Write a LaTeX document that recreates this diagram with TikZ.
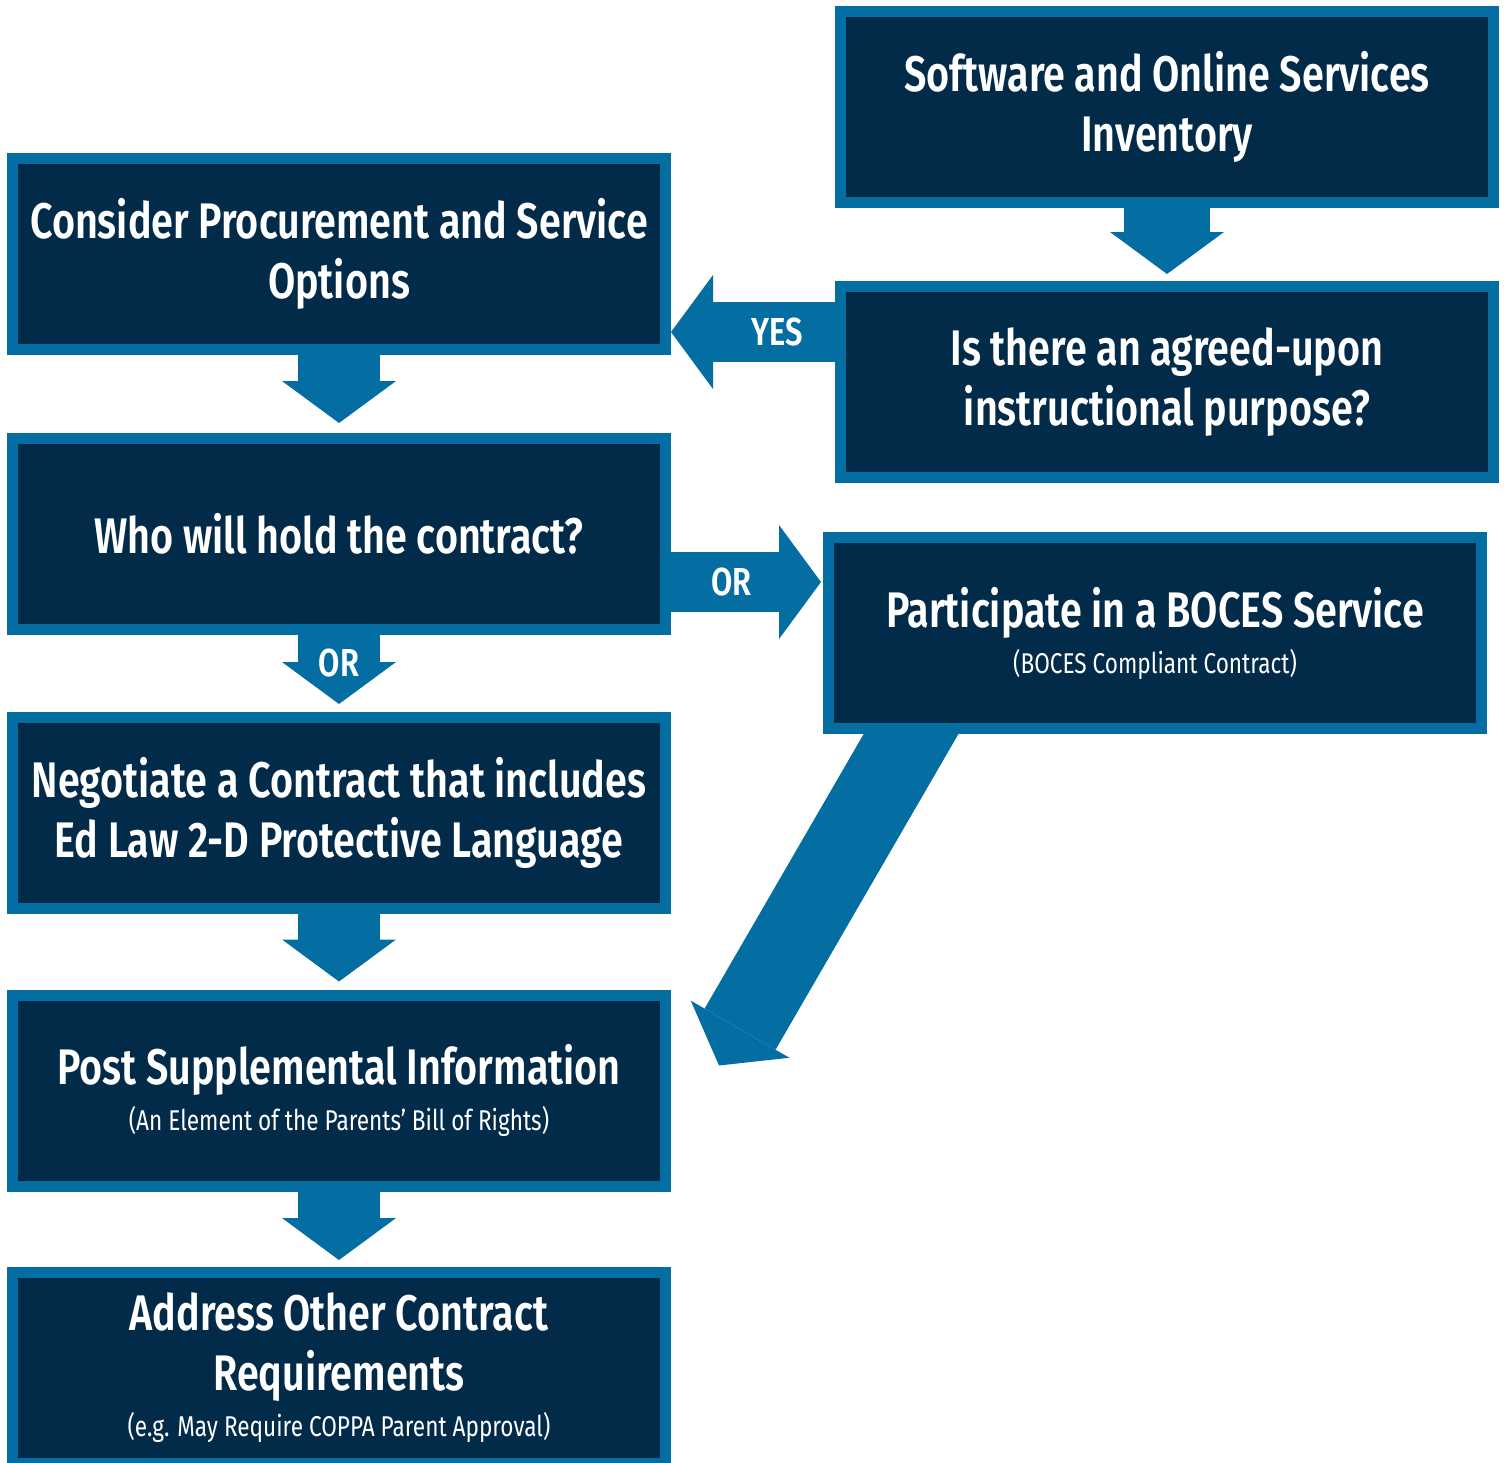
\documentclass[tikz,border=0pt]{standalone}
\usepackage{fontspec}
\setmainfont{Fira Sans}[FakeStretch=0.79, BoldFont={Fira Sans SemiBold}]
\usetikzlibrary{arrows.meta,calc,backgrounds}
\definecolor{navy}{HTML}{022B4A}
\definecolor{stepblue}{HTML}{046EA3}
\tikzset{
  flowbox/.style={fill=navy, draw=stepblue, line width=5.5pt, minimum width=326.5pt,
    minimum height=95.5pt, inner sep=0pt, text=white, align=center,
    font=\bfseries\fontsize{25}{30}\selectfont},
  bigarrow/.style={draw=stepblue, line width=#1, -{Triangle[width=57pt,length=21pt,line width=0pt]}},
  bigarrow/.default=41pt,
  arrlabel/.style={text=white, inner sep=0pt, font=\bfseries\fontsize{19.5}{22}\selectfont}
}
\newcommand{\subline}[1]{\\[-7pt]{\mdseries\fontsize{14.3}{16}\selectfont #1}}

\begin{document}
\begin{tikzpicture}[x=0.5pt, y=-0.5pt]
\path[use as bounding box, clip] (0,0) rectangle (1507,1462);
\node[flowbox] (soft) at (1167,107) {Software and Online Services\\Inventory};
\node[flowbox] (cons) at (339,254) {Consider Procurement and Service\\Options};
\node[flowbox] (purp) at (1167,382) {Is there an agreed-upon\\instructional purpose?};
\node[flowbox] (who) at (339,534) {Who will hold the contract?};
\node[flowbox] (boces) at (1155,633) {Participate in a BOCES Service\subline{(BOCES Compliant Contract)}};
\node[flowbox] (nego) at (339,813) {Negotiate a Contract that includes\\Ed Law 2-D Protective Language};
\node[flowbox] (post) at (339,1090.5) {Post Supplemental Information\subline{(An Element of the Parents’ Bill of Rights)}};
\node[flowbox] (addr) at (339,1368) {Address Other Contract\\Requirements\subline{(e.g. May Require COPPA Parent Approval)}};
\coordinate (yes) at ($(purp.west)+(0,-50)$);
\coordinate (orr) at ($(who.east)+(0,48)$);
\draw[bigarrow=43pt, shorten >=3.5pt] (soft) -- (purp);
\draw[bigarrow=30pt] (yes) -- (yes -| cons.east) node[arrlabel, pos=0.35] {YES};
\draw[bigarrow, shorten >=5pt] (cons) -- (who);
\draw[bigarrow=30pt, shorten >=1pt] (orr) -- (orr -| boces.west) node[arrlabel, pos=0.4] {OR};
\draw[bigarrow, shorten >=4pt] (who) -- (nego) node[arrlabel, pos=0.36] {OR};
\draw[bigarrow, shorten >=4pt] (nego) -- (post);
\draw[bigarrow, shorten >=3.5pt] (post) -- (addr);
\begin{scope}[on background layer]
\draw[bigarrow] ($(boces.south)+(-215,-50)$) -- ($(post.east)+(48,-25)$);
\end{scope}
\end{tikzpicture}
\end{document}
